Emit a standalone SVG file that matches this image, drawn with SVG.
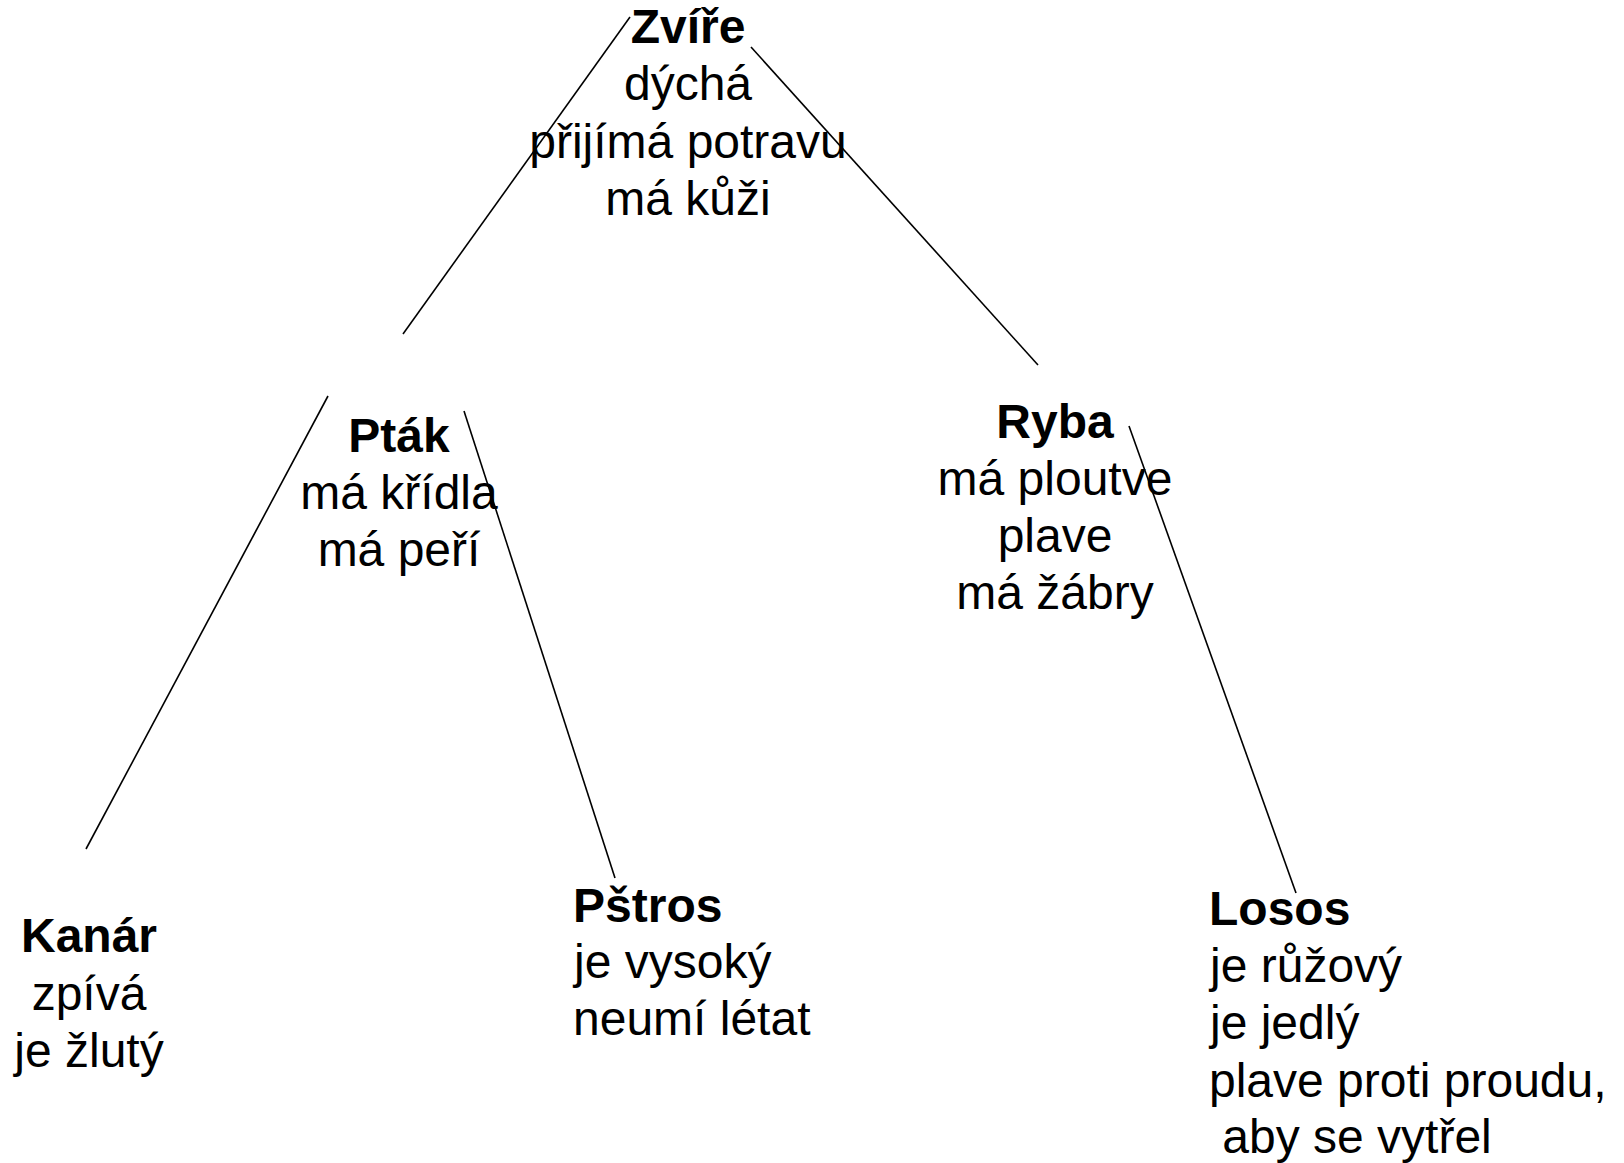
<svg xmlns="http://www.w3.org/2000/svg" width="1624" height="1163" viewBox="0 0 1624 1163">
<style>
text{font-family:"Liberation Sans",Arial,sans-serif;font-size:48px;fill:#000}
.c{text-anchor:middle}
.b{font-weight:bold}
.e{stroke:#000;stroke-width:1.6;fill:none}
</style>
<rect width="1624" height="1163" fill="#fff"/>
<g id="connectors">
<line class="e" x1="630" y1="17" x2="403" y2="334"/>
<line class="e" x1="751" y1="47" x2="1038" y2="365"/>
<line class="e" x1="328" y1="396" x2="86" y2="849"/>
<line class="e" x1="464" y1="411" x2="615" y2="878"/>
<line class="e" x1="1129" y1="426" x2="1296" y2="893"/>
</g>
<g id="zvire">
<text class="c b" x="688" y="43">Zvíře</text>
<text class="c" x="688" y="100">dýchá</text>
<text class="c" x="688" y="158">přijímá potravu</text>
<text class="c" x="688" y="215">má kůži</text>
</g>
<g id="ptak">
<text class="c b" x="399" y="452">Pták</text>
<text class="c" x="399" y="509">má křídla</text>
<text class="c" x="399" y="566">má peří</text>
</g>
<g id="ryba">
<text class="c b" x="1055" y="438">Ryba</text>
<text class="c" x="1055" y="495">má ploutve</text>
<text class="c" x="1055" y="552">plave</text>
<text class="c" x="1055" y="609">má žábry</text>
</g>
<g id="kanar">
<text class="c b" x="89" y="952">Kanár</text>
<text class="c" x="89" y="1010">zpívá</text>
<text class="c" x="89" y="1067">je žlutý</text>
</g>
<g id="pstros">
<text class="b" x="573" y="922">Pštros</text>
<text x="574" y="978">je vysoký</text>
<text x="573" y="1035">neumí létat</text>
</g>
<g id="losos">
<text class="b" x="1209" y="925">Losos</text>
<text x="1210" y="982">je růžový</text>
<text x="1210" y="1039">je jedlý</text>
<text x="1209" y="1097">plave proti proudu,</text>
<text x="1209" y="1153" xml:space="preserve"> aby se vytřel</text>
</g>
</svg>
